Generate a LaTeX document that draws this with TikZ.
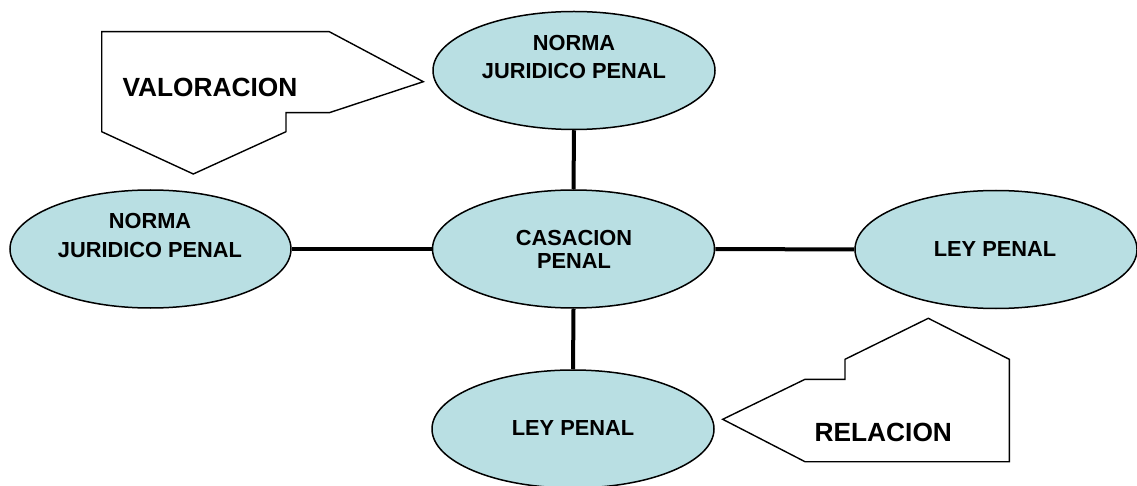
\documentclass[tikz,border=0pt]{standalone}
\usepackage{fontspec}
\setmainfont{Liberation Sans}
\usetikzlibrary{shapes.geometric}
\definecolor{ellfill}{RGB}{185,223,227}
\begin{document}
\begin{tikzpicture}[x=1pt,y=-1pt,
  ell/.style={ellipse,draw=black,line width=1.5pt,fill=ellfill,inner sep=0pt,minimum width=282pt,minimum height=118pt},
  lbl/.style={inner sep=0pt,align=center,font=\fontsize{21.8}{28.7}\selectfont\bfseries},
  lblc/.style={inner sep=0pt,align=center,font=\fontsize{21.8}{23.3}\selectfont\bfseries},
  big/.style={inner sep=0pt,font=\fontsize{26.3}{30}\selectfont\bfseries},
  link/.style={line width=4pt,black},
  callout/.style={draw=black,line width=1.4pt,fill=white,line join=miter}]
\useasboundingbox (0,0) rectangle (1137,486);
% callouts
\draw[callout] (101.7,31.7) -- (329.3,31.7) -- (423.3,81.7) -- (329.3,112.7) -- (286,112.7) -- (286,131.7) -- (193.3,174) -- (101.7,131.7) -- cycle;
\draw[callout] (722.7,419.3) -- (805,379.3) -- (845,379.3) -- (845,359.3) -- (928.3,318.3) -- (1009.3,359.3) -- (1009.3,461.7) -- (805,461.7) -- cycle;
\node[big] (val) at (210,87.5) {VALORACION};
\node[big] (rel) at (883.3,432.5) {RELACION};
% ellipses
\node[ell] (top) at (574,70.5) {};
\node[ell] (ctr) at (573.5,249) {};
\node[ell,minimum width=281pt] (lft) at (150.5,249) {};
\node[ell] (rgt) at (996,249.5) {};
\node[ell] (bot) at (573,429) {};
% links
\draw[link] (top.south) -- (ctr.north);
\draw[link] (lft.east) -- (ctr.west);
\draw[link] (ctr.east) -- (rgt.west);
\draw[link] (ctr.south) -- (bot.north);
% labels
\node[lbl] (toplbl) at (574,57) {NORMA\\JURIDICO PENAL};
\node[lbl] (lftlbl) at (150,235.5) {NORMA\\JURIDICO PENAL};
\node[lblc] (ctrlbl) at (574,249.7) {CASACION\\PENAL};
\node[lbl] (rgtlbl) at (995,249) {LEY PENAL};
\node[lbl] (botlbl) at (573,427.5) {LEY PENAL};
\end{tikzpicture}
\end{document}
